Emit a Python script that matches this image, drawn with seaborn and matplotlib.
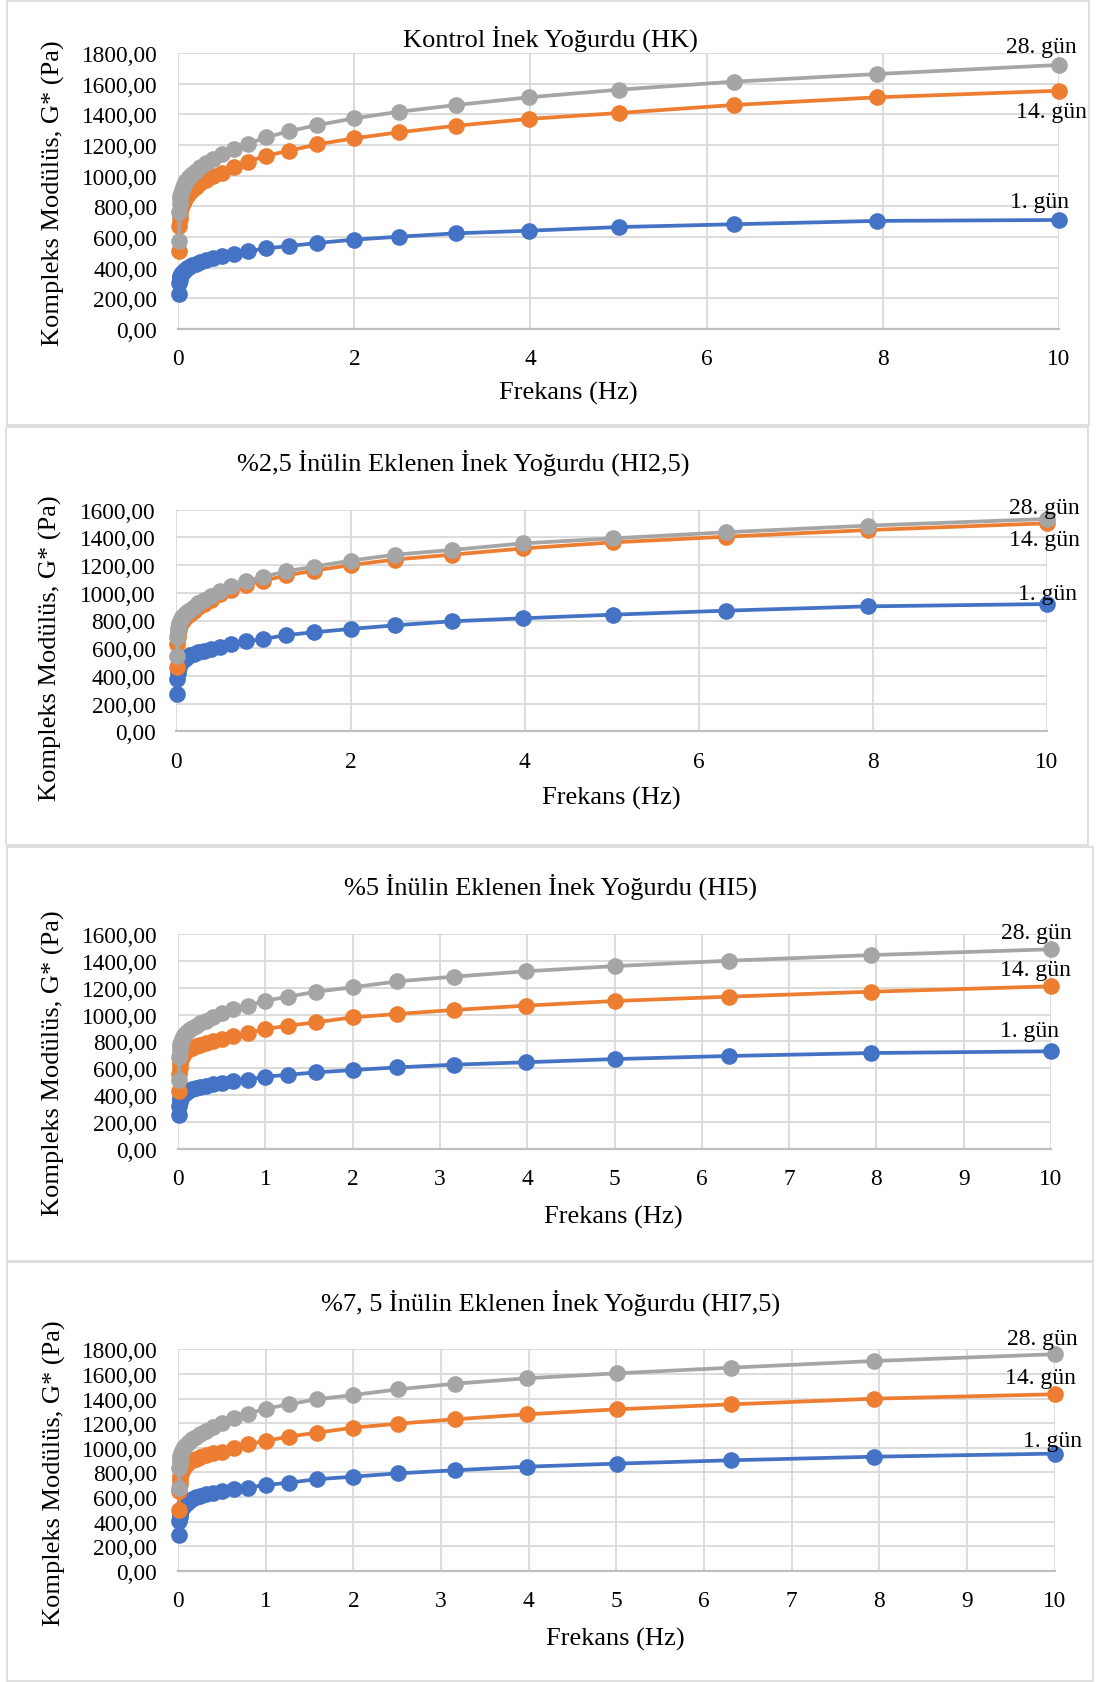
import matplotlib
matplotlib.use("Agg")
import matplotlib.pyplot as plt
import seaborn as sns
import pandas as pd
from matplotlib.patches import Rectangle
from matplotlib.ticker import FuncFormatter

sns.set_theme(style="white")
plt.rcParams["font.family"] = ["Liberation Serif", "DejaVu Serif"]
plt.rcParams["text.color"] = "black"

# ---------------- data ----------------
freq = [0.01, 0.0126, 0.0158, 0.02, 0.0251, 0.0316, 0.0398, 0.0501, 0.0631, 0.0794,
        0.1, 0.126, 0.158, 0.2, 0.251, 0.316, 0.398, 0.501, 0.631, 0.794,
        1, 1.26, 1.58, 2, 2.51, 3.16, 3.98, 5.01, 6.31, 7.94, 10]

days = ["1. gün", "14. gün", "28. gün"]

hk_1 = [228, 300, 322, 336, 347, 357, 366, 374, 381, 388,
        395, 405, 416, 427, 440, 452, 465, 476, 490, 507,
        526, 541, 561, 583, 602, 624, 641, 665, 683, 705, 711]
hk_14 = [511, 672, 715, 745, 768, 788, 806, 822, 838, 853,
         868, 888, 905, 925, 950, 972, 996, 1020, 1054, 1091,
         1130, 1163, 1204, 1244, 1283, 1326, 1370, 1409, 1461, 1511, 1554]
hk_28 = [576, 760, 812, 845, 870, 890, 908, 925, 942, 958,
         972, 990, 1008, 1030, 1054, 1080, 1109, 1141, 1172, 1209,
         1250, 1290, 1330, 1374, 1417, 1461, 1511, 1561, 1613, 1663, 1722]

hi25_1 = [270, 378, 420, 445, 462, 475, 487, 497, 505, 512,
          520, 535, 548, 560, 570, 582, 594, 606, 628, 650,
          666, 695, 715, 739, 765, 794, 816, 842, 871, 902, 919]
hi25_14 = [462, 630, 680, 710, 732, 750, 766, 780, 792, 804,
           815, 832, 848, 870, 895, 920, 950, 988, 1020, 1055,
           1088, 1125, 1160, 1200, 1240, 1275, 1320, 1364, 1405, 1453, 1502]
hi25_28 = [541, 680, 720, 745, 765, 782, 797, 810, 822, 833,
           845, 862, 878, 900, 925, 950, 980, 1015, 1047, 1083,
           1116, 1155, 1189, 1232, 1275, 1309, 1357, 1393, 1437, 1485, 1533]

hi5_1 = [253, 320, 345, 362, 375, 385, 394, 402, 410, 417,
         424, 434, 443, 452, 462, 470, 479, 487, 502, 512,
         537, 551, 569, 586, 606, 626, 644, 668, 691, 713, 726]
hi5_14 = [430, 557, 600, 630, 652, 670, 686, 698, 710, 722,
          733, 742, 752, 762, 773, 785, 800, 817, 838, 860,
          892, 917, 942, 979, 1004, 1034, 1066, 1101, 1133, 1170, 1210]
hi5_28 = [515, 681, 725, 755, 778, 798, 815, 830, 845, 858,
          870, 886, 902, 918, 935, 955, 980, 1009, 1041, 1066,
          1103, 1133, 1170, 1203, 1247, 1282, 1322, 1361, 1401, 1443, 1486]

hi75_1 = [292, 406, 440, 462, 480, 495, 508, 520, 532, 545,
          556, 570, 584, 598, 612, 625, 637, 648, 663, 677,
          698, 717, 745, 766, 793, 818, 847, 872, 899, 928, 953]
hi75_14 = [493, 650, 705, 740, 768, 790, 810, 826, 842, 857,
           870, 885, 898, 912, 925, 940, 955, 968, 996, 1029,
           1056, 1091, 1123, 1164, 1196, 1232, 1272, 1313, 1353, 1399, 1435]
hi75_28 = [677, 834, 880, 910, 935, 955, 972, 988, 1003, 1018,
           1032, 1050, 1068, 1090, 1112, 1140, 1170, 1204, 1245, 1277,
           1318, 1353, 1394, 1429, 1475, 1521, 1565, 1605, 1651, 1705, 1760]

titles = ["Kontrol İnek Yoğurdu (HK)",
          "%2,5 İnülin Eklenen İnek Yoğurdu (HI2,5)",
          "%5 İnülin Eklenen İnek Yoğurdu (HI5)",
          "%7, 5 İnülin Eklenen İnek Yoğurdu (HI7,5)"]
xlabel = "Frekans (Hz)"
ylabel = "Kompleks Modülüs, G* (Pa)"

series = [(hk_1, hk_14, hk_28), (hi25_1, hi25_14, hi25_28),
          (hi5_1, hi5_14, hi5_28), (hi75_1, hi75_14, hi75_28)]

palette = {"1. gün": "#4472C4", "14. gün": "#ED7D31", "28. gün": "#A5A5A5"}

# ---------------- layout (pixels) ----------------
W, H = 1096, 1683
fig = plt.figure(figsize=(W / 100, H / 100), dpi=100)

def fx(px):
    return px / W

def fy(py):
    return 1 - py / H

panels = [
    dict(box=(178.2, 54, 1058.8, 330), ymax=1800, xstep=2, border=(7, 2, 1089, 426),
         title=(550, 46.7), xl=(568, 399.3), yl=(53, 193),
         offs=[(-13.9, 9.1), (-5.6, -19.2), (-12.8, 9.1)]),
    dict(box=(176.4, 510.7, 1047, 732.3), ymax=1600, xstep=2, border=(6, 428, 1088, 846),
         title=(463, 470.7), xl=(611, 805), yl=(50, 648),
         offs=[(0.7, 3.6), (-1.9, -15.4), (-1.9, 4.1)]),
    dict(box=(178.2, 935, 1051, 1149.7), ymax=1600, xstep=1, border=(7, 848, 1093, 1262),
         title=(550, 895), xl=(613, 1223.3), yl=(53.5, 1063),
         offs=[(-15.7, 11.2), (-10.9, 8.4), (-10.9, 8.1)]),
    dict(box=(178.2, 1350.3, 1054.6, 1572), ymax=1800, xstep=1, border=(7, 1263, 1093, 1682),
         title=(551, 1310.3), xl=(615, 1645.3), yl=(54.7, 1473),
         offs=[(-1.3, 5.5), (-9.9, 8.4), (-8.5, 7.2)]),
]

grid_c = "#D9D9D9"
tick_fs = 16.8
lab_fs = 19

fmt = FuncFormatter(lambda v, p: f"{v:.2f}".replace(".", ","))

for i, p in enumerate(panels):
    # panel border
    bx0, by0, bx1, by1 = p["border"]
    fig.patches.append(Rectangle((fx(bx0), fy(by1)), fx(bx1) - fx(bx0), fy(by0) - fy(by1),
                                 transform=fig.transFigure, fill=False,
                                 edgecolor=grid_c, linewidth=1.2, zorder=0))
    l, t, r, b = p["box"]
    ax = fig.add_axes([fx(l), fy(b), fx(r) - fx(l), fy(t) - fy(b)])
    ax.set_facecolor("none")

    s1, s14, s28 = series[i]
    df = pd.DataFrame({
        "freq": freq * 3,
        "G": s1 + s14 + s28,
        "gün": [days[0]] * len(freq) + [days[1]] * len(freq) + [days[2]] * len(freq),
    })
    sns.lineplot(data=df, x="freq", y="G", hue="gün", hue_order=days, palette=palette,
                 marker="o", markersize=12, markeredgewidth=0, linewidth=2.7,
                 estimator=None, sort=False, legend=False, ax=ax)
    for ln in ax.lines:
        ln.set_clip_on(False)
        ln.set_zorder(3)

    ax.set_xlim(0, 10)
    ax.set_ylim(0, p["ymax"])
    ax.set_xticks(list(range(0, 11, p["xstep"])))
    ax.set_yticks(list(range(0, p["ymax"] + 1, 200)))
    ax.yaxis.set_major_formatter(fmt)
    ax.grid(True, color=grid_c, linewidth=1.3, zorder=0)
    ax.set_axisbelow(True)
    for sp in ["top", "right", "left"]:
        ax.spines[sp].set_visible(False)
    ax.spines["bottom"].set_color("#BFBFBF")
    ax.spines["bottom"].set_linewidth(1.6)
    ax.tick_params(axis="both", length=0, labelsize=tick_fs, colors="black")
    ax.tick_params(axis="x", pad=14)
    ax.tick_params(axis="y", pad=15)
    ax.set_xlabel("")
    ax.set_ylabel("")

    # series end labels
    for name, vals, off in zip(days, series[i], p["offs"]):
        ax.annotate(name, xy=(freq[-1], vals[-1]), xytext=off, textcoords="offset points",
                    ha="center", va="baseline", fontsize=17, color="black", zorder=6,
                    annotation_clip=False)

    fig.text(fx(p["title"][0]), fy(p["title"][1]), titles[i], ha="center", va="baseline",
             fontsize=lab_fs)
    fig.text(fx(p["xl"][0]), fy(p["xl"][1]), xlabel, ha="center", va="baseline",
             fontsize=lab_fs)
    fig.text(fx(p["yl"][0]), fy(p["yl"][1]), ylabel, ha="center", va="center",
             rotation=90, fontsize=lab_fs)

fig.savefig("out.png", dpi=100, facecolor="white")
